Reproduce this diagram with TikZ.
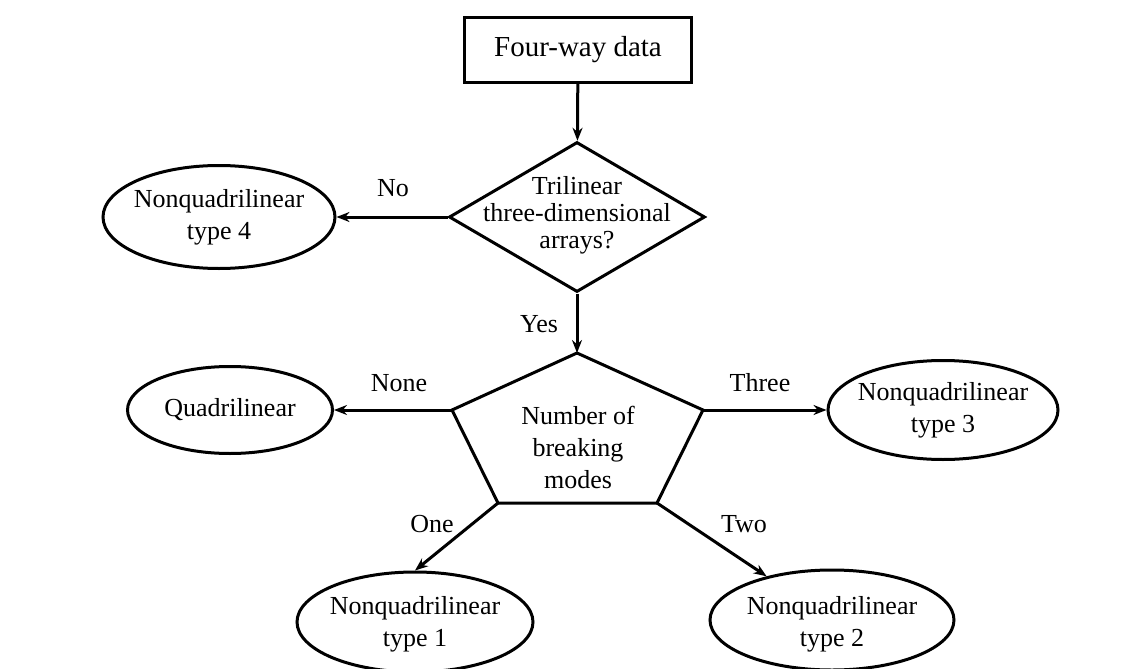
\documentclass[tikz,border=0pt]{standalone}
\usepackage{fontspec}
\setmainfont{Liberation Serif}
\usetikzlibrary{shapes,arrows.meta}

\begin{document}
\begin{tikzpicture}[x=1pt,y=-1pt]%
\tikzstyle{every node} = [font=\fontsize{26}{32}\selectfont]
\tikzstyle{databox} = [draw, line width=3pt, rectangle, minimum width=227pt,
    minimum height=65pt, inner sep=0pt, font=\fontsize{29}{35}\selectfont]
\tikzstyle{decision} = [draw, line width=3pt, diamond, minimum width=256pt,
    minimum height=150pt, inner sep=0pt]
\tikzstyle{oval} = [draw, line width=3pt, ellipse, inner sep=0pt]
\tikzstyle{txt} = [align=center]
\tikzstyle{flow} = [line width=3pt, -{Stealth[length=13pt,width=10pt]}]

\useasboundingbox (0,0) rectangle (1138,669);

\node[databox] (data) at (578,50) {Four-way data};
\node[decision] (tri) at (577,217) {};
\node[txt, font=\fontsize{26}{27}\selectfont] (tritxt) at (577,215)
    {Trilinear\\three-dimensional\\arrays?};

\coordinate (pt) at (577,353);
\coordinate (pr) at (703,410);
\coordinate (pbr) at (657,503);
\coordinate (pbl) at (498,503);
\coordinate (pl) at (452,410);
\draw[line width=3pt] (pt) -- (pr) -- (pbr) -- (pbl) -- (pl) -- cycle;
\node[txt] (modes) at (578,447) {Number of\\breaking\\modes};

\node[oval, minimum width=232pt, minimum height=103pt] (nq4) at (219,217) {};
\node[txt] (nq4txt) at (nq4) {Nonquadrilinear\\type 4};
\node[oval, minimum width=205pt, minimum height=87pt] (quad) at (230,410) {};
\node (quadtxt) at (quad) {Quadrilinear};
\node[oval, minimum width=230pt, minimum height=99pt] (nq3) at (943,410) {};
\node[txt] (nq3txt) at (nq3) {Nonquadrilinear\\type 3};
\node[oval, minimum width=236pt, minimum height=100pt] (nq1) at (415,622) {};
\node[txt] (nq1txt) at (415,624) {Nonquadrilinear\\type 1};
\node[oval, minimum width=244pt, minimum height=100pt] (nq2) at (832,620) {};
\node[txt] (nq2txt) at (832,624) {Nonquadrilinear\\type 2};

\draw[flow] (data) -- (tri);
\draw[flow] (tri.west) -- (nq4);
\draw[flow] (tri.south) -- (pt);
\draw[flow] (pl) -- (quad.east);
\draw[flow] (pr) -- (nq3.west);
\draw[flow] (pbl) -- (nq1.north);
\draw[flow] (pbr) -- (nq2);

\node (no) at (393,188) {No};
\node (yes) at (539,324) {Yes};
\node (none) at (399,383) {None};
\node (three) at (760,383) {Three};
\node (one) at (432,524) {One};
\node (two) at (744,524) {Two};
\end{tikzpicture}
\end{document}
